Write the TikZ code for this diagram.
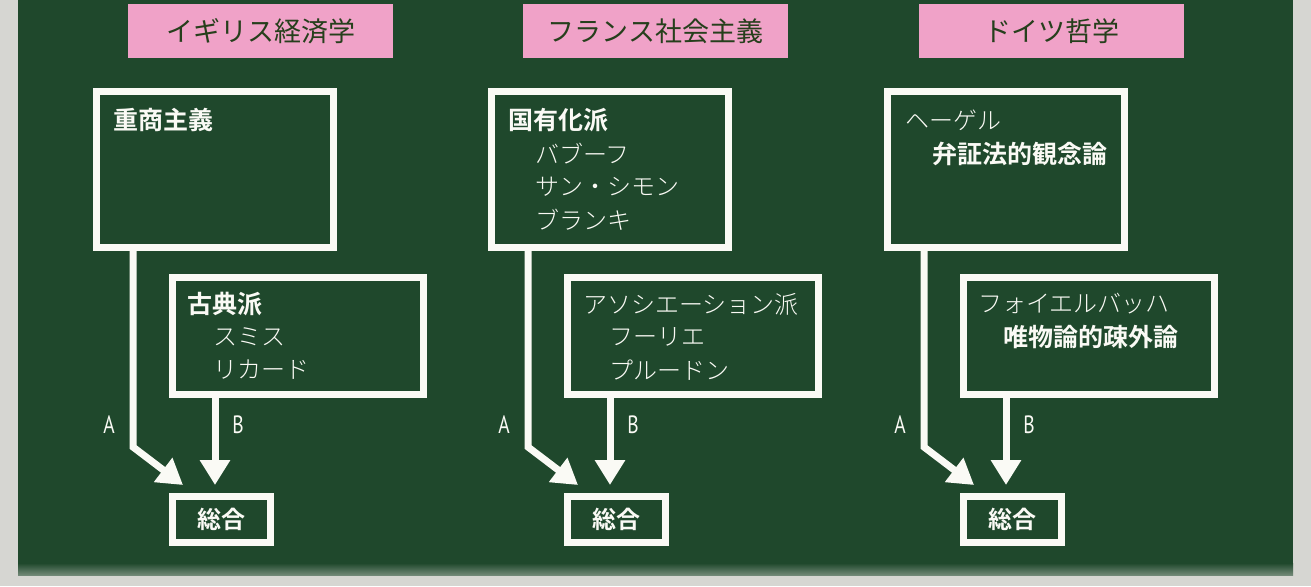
\documentclass[tikz,border=0pt]{standalone}
\usepackage{fontspec}
\newfontfamily\jp{Noto Sans CJK JP}[BoldFont={Noto Sans CJK JP Bold}]
\newfontfamily\jpl{Noto Sans CJK JP Light}
\newfontfamily\narrowsf{PT Sans}[FakeStretch=0.78]
\usetikzlibrary{arrows.meta,calc}
\definecolor{board}{HTML}{1F482C}
\definecolor{frame}{HTML}{D6D6D2}
\definecolor{pinkhd}{HTML}{F0A2C8}
\definecolor{hdtext}{HTML}{263F1C}
\definecolor{chalk}{HTML}{FAFAF5}
\tikzset{
  cbox/.style={draw=chalk,line width=7pt,inner sep=0pt,outer sep=0pt},
  hdr/.style={fill=pinkhd,minimum width=265pt,minimum height=54pt,inner sep=0pt,
    font=\jp\fontsize{27}{27}\selectfont,text=hdtext},
  kan/.style={anchor=west,inner sep=0pt,text=chalk,font=\jp\bfseries\fontsize{25}{25}\selectfont},
  kana/.style={anchor=west,inner sep=0pt,text=chalk,font=\jpl\fontsize{24}{24}\selectfont},
  sumtxt/.style={text=chalk,font=\jp\bfseries\fontsize{24}{24}\selectfont},
  lbl/.style={text=chalk,inner sep=0pt,font=\narrowsf\fontsize{25}{25}\selectfont},
  stem/.style={draw=chalk,line width=7pt,line join=miter,-{Triangle[length=25pt,width=29pt]}}
}
\begin{document}
\begin{tikzpicture}[x=1pt,y=-1pt]
\useasboundingbox (0,0) rectangle (1311,586);
\fill[frame] (0,0) rectangle (1311,586);
\fill[board] (18,0) rectangle (1293,575);
\shade[top color=board,bottom color=board!55!frame] (18,563) rectangle (1293,575);
% ---------- column 1 ----------
\node[hdr] (H1) at (260.5,31) {イギリス経済学};
\node[cbox,minimum width=237pt,minimum height=156pt] (T1) at (215,169.5) {};
\node[cbox,minimum width=251pt,minimum height=117pt] (S1) at (298,336) {};
\node[cbox,minimum width=98pt,minimum height=46pt] (Z1) at (221.5,519.5) {};
\node[sumtxt] at (Z1.center) {総合};
\node[kan] (t1a) at (113,120) {重商主義};
\node[kan] (s1a) at (187,304) {古典派};
\node[kana] (s1b) at (213,337) {スミス};
\node[kana] (s1c) at (213,370) {リカード};
\draw[stem] ($(T1.south west)+(36.5,0)$) -- ($(T1.south west)+(36.5,199.5)$) -- ($(Z1.north west)+(10.5,-11.5)$);
\draw[stem] ($(S1.south west)+(42.5,0)$) -- ($(Z1.north west)+(42.5,-11.5)$);
\node[lbl] (A1) at (109,425) {A};
\node[lbl] (B1) at (238,425) {B};
% ---------- column 2 ----------
\node[hdr] (H2) at (655.5,31) {フランス社会主義};
\node[cbox,minimum width=237pt,minimum height=156pt] (T2) at (610,169.5) {};
\node[cbox,minimum width=251pt,minimum height=117pt] (S2) at (693,336) {};
\node[cbox,minimum width=98pt,minimum height=46pt] (Z2) at (616.5,519.5) {};
\node[sumtxt] at (Z2.center) {総合};
\node[kan] (t2a) at (508,120) {国有化派};
\node[kana] (t2b) at (535,154) {バブーフ};
\node[kana] (t2c) at (535,187) {サン・シモン};
\node[kana] (t2d) at (535,220) {ブランキ};
\node[kana] (s2a) at (583,304) {アソシエーション派};
\node[kana] (s2b) at (609,337) {フーリエ};
\node[kana] (s2c) at (609,370) {プルードン};
\draw[stem] ($(T2.south west)+(36.5,0)$) -- ($(T2.south west)+(36.5,199.5)$) -- ($(Z2.north west)+(10.5,-11.5)$);
\draw[stem] ($(S2.south west)+(42.5,0)$) -- ($(Z2.north west)+(42.5,-11.5)$);
\node[lbl] (A2) at (504,425) {A};
\node[lbl] (B2) at (633,425) {B};
% ---------- column 3 ----------
\node[hdr] (H3) at (1051.5,31) {ドイツ哲学};
\node[cbox,minimum width=237pt,minimum height=156pt] (T3) at (1006,169.5) {};
\node[cbox,minimum width=251pt,minimum height=117pt] (S3) at (1089,336) {};
\node[cbox,minimum width=98pt,minimum height=46pt] (Z3) at (1012.5,519.5) {};
\node[sumtxt] at (Z3.center) {総合};
\node[kana] (t3a) at (905,120) {ヘーゲル};
\node[kan] (t3b) at (932,154) {弁証法的観念論};
\node[kana] (s3a) at (978,304) {フォイエルバッハ};
\node[kan] (s3b) at (1003,337) {唯物論的疎外論};
\draw[stem] ($(T3.south west)+(36.5,0)$) -- ($(T3.south west)+(36.5,199.5)$) -- ($(Z3.north west)+(10.5,-11.5)$);
\draw[stem] ($(S3.south west)+(42.5,0)$) -- ($(Z3.north west)+(42.5,-11.5)$);
\node[lbl] (A3) at (900,425) {A};
\node[lbl] (B3) at (1029,425) {B};
\end{tikzpicture}
\end{document}
